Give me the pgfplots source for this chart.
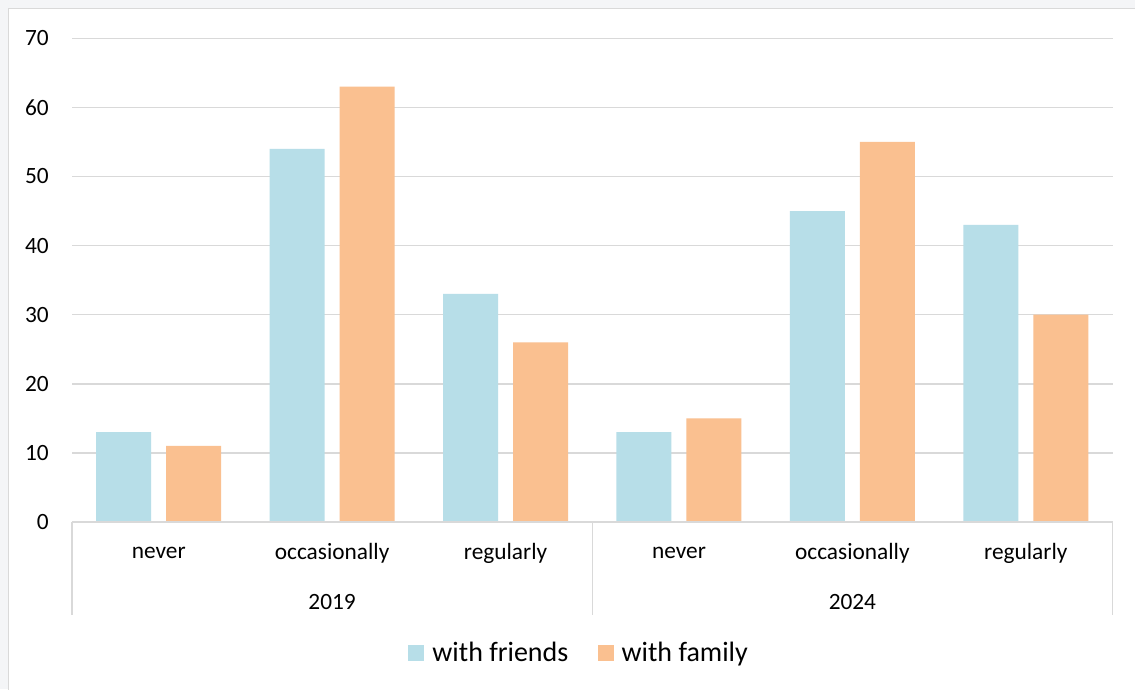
\documentclass[border=0pt]{standalone}
\usepackage{fontspec}
\setmainfont{Carlito}
\usepackage{pgfplots}
\pgfplotsset{compat=1.18}
\definecolor{cfriends}{HTML}{B7DEE8}
\definecolor{cfamily}{HTML}{FAC090}
\definecolor{cgrid}{HTML}{D9D9D9}
\definecolor{cbg}{RGB}{244,245,247}
\begin{document}
\begin{tikzpicture}
\useasboundingbox (0pt,0pt) rectangle (851.25pt,516.75pt);
\fill[cbg] (0pt,0pt) rectangle (851.25pt,516.75pt);
\filldraw[fill=white,draw=cgrid,line width=1.1pt] (6.4pt,-10pt) rectangle (860pt,510.4pt);
\begin{axis}[
  at={(54pt,125.25pt)}, anchor=south west,
  scale only axis, width=780.4pt, height=362.8pt,
  ybar=11.25pt, bar width=41.25pt,
  xmin=0, xmax=6, ymin=0, ymax=70,
  ytick={0,10,...,70},
  xtick={0.5,1.5,...,5.5},
  xticklabels={never,occasionally,regularly,never,occasionally,regularly},
  xticklabel style={anchor=center, yshift=-23.5pt, font=\fontsize{17.5}{20}\selectfont},
  yticklabel style={anchor=east, inner sep=0pt, xshift=-17.25pt, font=\fontsize{17.5}{20}\selectfont},
  /pgf/number format/assume math mode=true,
  major tick length=0pt,
  ymajorgrids, grid style={cgrid, line width=1.1pt},
  axis line style={draw=none},
  clip=false,
  legend columns=2,
  legend style={at={(axis description cs:0.4877,-0.2708)}, anchor=center, draw=none, fill=none,
    font=\fontsize{21}{24}\selectfont, column sep=0pt,
    /tikz/every even column/.append style={column sep=20pt}},
  legend image code/.code={\fill[#1] (0pt,-6pt) rectangle (12pt,6pt); \path (16pt,0pt);},
]
\addplot[fill=cfriends, draw=none] coordinates {(0.5,13) (1.5,54) (2.5,33) (3.5,13) (4.5,45) (5.5,43)};
\addplot[fill=cfamily, draw=none] coordinates {(0.5,11) (1.5,63) (2.5,26) (3.5,15) (4.5,55) (5.5,30)};
\legend{with friends, with family}
\draw[cgrid, line width=1.1pt] (axis cs:0,0) -- (axis cs:6,0);
\draw[cgrid, line width=1.1pt] (axis cs:0,0) -- ++(0,-69.75pt);
\draw[cgrid, line width=1.1pt] (axis cs:3,0) -- ++(0,-69.75pt);
\draw[cgrid, line width=1.1pt] (axis cs:6,0) -- ++(0,-69.75pt);
\node[font=\fontsize{17.5}{20}\selectfont] at ([yshift=-60pt]axis cs:1.5,0) {2019};
\node[font=\fontsize{17.5}{20}\selectfont] at ([yshift=-60pt]axis cs:4.5,0) {2024};
\end{axis}
\end{tikzpicture}
\end{document}
